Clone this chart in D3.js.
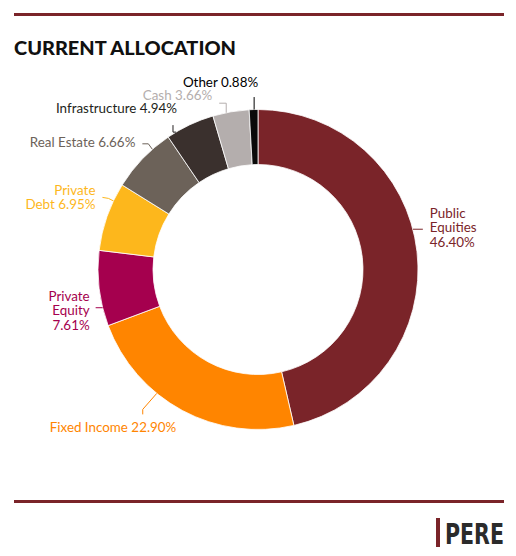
<!DOCTYPE html>
<html>
<head>
<meta charset="utf-8">
<script src="https://cdn.jsdelivr.net/npm/d3@7"></script>
<style>
  body { margin: 0; background: #fff; }
  svg { display: block; }
</style>
</head>
<body>
<div id="chart"></div>
<script>
// data
var categories = ["Public Equities", "Fixed Income", "Private Equity", "Private Debt",
                  "Real Estate", "Infrastructure", "Cash", "Other"];
var shares = [46.40, 22.90, 7.61, 6.95, 6.66, 4.94, 3.66, 0.88];
var labelLines = [["Public", "Equities", "46.40%"], ["Fixed Income 22.90%"],
                  ["Private", "Equity", "7.61%"], ["Private", "Debt 6.95%"],
                  ["Real Estate 6.66%"], ["Infrastructure 4.94%"], ["Cash 3.66%"], ["Other 0.88%"]];

var colors = ["#7a2429", "#ff8500", "#a5004e", "#fdb71c", "#6c6259", "#3a302d", "#b4aead", "#0a0a0a"];
var textColors = ["#7a2429", "#ff8500", "#a5004e", "#fdb71c", "#6c6259", "#231f20", "#b4aead", "#000"];

// label layout: shift of the leader start from the slice middle (degrees),
// leader bends relative to that point, text anchor relative to that point
var labelLayout = [
  {shift: -8.1, bends: [[10, 0]], tx: 17, ty: -11, anchor: "start"},
  {shift: 11.0, bends: [[-14, 16], [-14, 21]], tx: -107, ty: 39, anchor: "start"},
  {shift: -7.0, bends: [[-7, 0]], tx: -13, ty: -6.5, anchor: "end"},
  {shift: 6.0, bends: [[-5, -2.5], [-11, -3.5]], tx: -18, ty: -6, anchor: "end"},
  {shift: 4.8, bends: [[-4, -5.5], [-10, -5.5]], tx: -17, ty: -2.3, anchor: "end"},
  {shift: -5.6, bends: [[-3, 0], [-3, -7]], tx: 1, ty: -19, anchor: "end"},
  {shift: -1.7, bends: [[0, -9.5], [-7, -9.5]], tx: -14, ty: -12.7, anchor: "end"},
  {shift: 0.2, bends: [[0, -12.5]], tx: 4, ty: -22.5, anchor: "end"}
];

var W = 516, H = 556;
var cx = 258, cy = 269.5, outerR = 160, innerR = 105;
var maroon = "#7a2429";

var svg = d3.select("#chart").append("svg")
    .attr("width", W)
    .attr("height", H);

// rules
svg.append("rect").attr("x", 14).attr("y", 13).attr("width", 490).attr("height", 3).attr("fill", maroon);
svg.append("rect").attr("x", 14).attr("y", 500).attr("width", 490).attr("height", 3).attr("fill", maroon);

// title
svg.append("text")
    .attr("x", 14)
    .attr("y", 54.5)
    .attr("font-family", "Lato, 'Open Sans', sans-serif")
    .attr("font-weight", 900)
    .attr("font-size", 19.5)
    .attr("fill", "#111")
    .attr("textLength", 222)
    .attr("lengthAdjust", "spacingAndGlyphs")
    .text("CURRENT ALLOCATION");

// donut
var pie = d3.pie().sort(null).value(function(d) { return d; });
var arcs = pie(shares);
var arc = d3.arc().innerRadius(innerR).outerRadius(outerR);

var g = svg.append("g").attr("transform", "translate(" + cx + "," + cy + ")");

g.selectAll("path.slice")
  .data(arcs)
  .enter()
  .append("path")
    .attr("class", "slice")
    .attr("d", arc)
    .attr("fill", function(d, i) { return colors[i]; })
    .attr("stroke", "#fff")
    .attr("stroke-width", 0.8);

// labels with leader lines
arcs.forEach(function(d, i) {
  var lay = labelLayout[i];
  var a = (d.startAngle + d.endAngle) / 2 + lay.shift * Math.PI / 180;
  var px = outerR * Math.sin(a), py = -outerR * Math.cos(a);
  var pts = [[px, py]].concat(lay.bends.map(function(b) { return [px + b[0], py + b[1]]; }));

  g.append("path")
    .attr("d", d3.line()(pts))
    .attr("fill", "none")
    .attr("stroke", textColors[i])
    .attr("stroke-width", 1);

  var t = g.append("text")
    .attr("x", px + lay.tx)
    .attr("y", py + lay.ty)
    .attr("text-anchor", lay.anchor)
    .attr("font-family", "Lato, 'Open Sans', sans-serif")
    .attr("font-size", 13.4)
    .attr("fill", textColors[i]);
  labelLines[i].forEach(function(line, k) {
    t.append("tspan")
      .attr("x", px + lay.tx)
      .attr("dy", k === 0 ? 0 : 14.2)
      .text(line);
  });
});

// logo
svg.append("rect").attr("x", 436).attr("y", 518).attr("width", 4).attr("height", 29).attr("fill", maroon);
svg.append("text")
    .attr("x", 445)
    .attr("y", 544)
    .attr("font-family", "'DejaVu Sans Condensed', 'Liberation Sans Narrow', sans-serif")
    .attr("font-weight", "bold")
    .attr("font-size", 28)
    .attr("fill", "#2b2b2b")
    .attr("textLength", 59)
    .attr("lengthAdjust", "spacingAndGlyphs")
    .text("PERE");
</script>
</body>
</html>
